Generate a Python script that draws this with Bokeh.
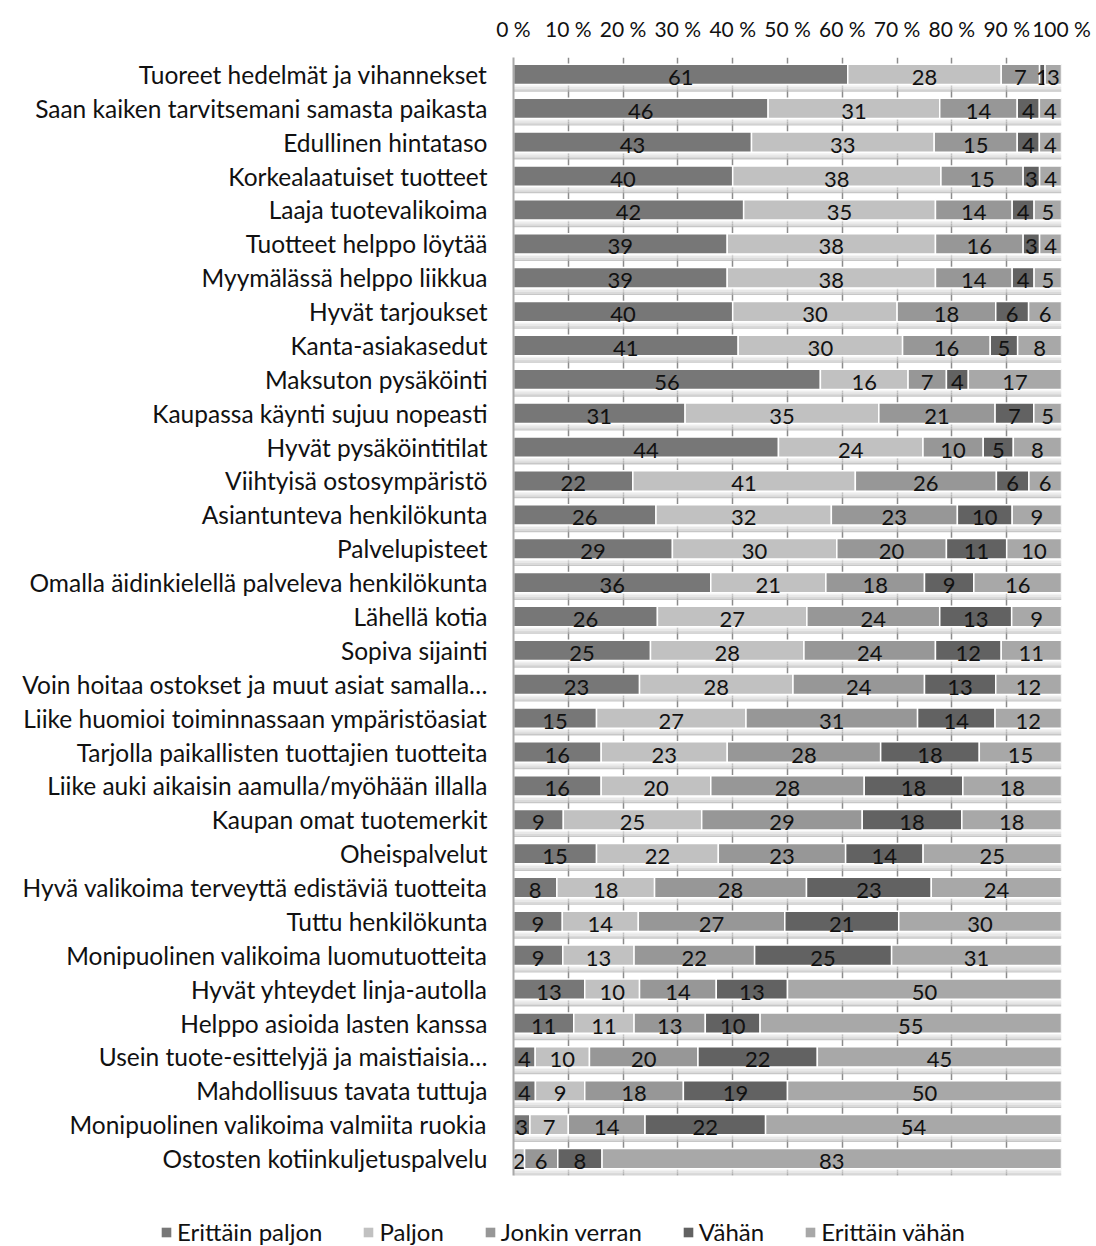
from bokeh.plotting import figure
from bokeh.layouts import column
from bokeh.models import (Range1d, FixedTicker, CustomJSTickFormatter, ColumnDataSource,
                          Legend, LegendItem)
from bokeh.core.properties import value
from bokeh.embed import file_html
from bokeh.resources import INLINE

categories = [
    "Tuoreet hedelmät ja vihannekset",
    "Saan kaiken tarvitsemani samasta paikasta",
    "Edullinen hintataso",
    "Korkealaatuiset tuotteet",
    "Laaja tuotevalikoima",
    "Tuotteet helppo löytää",
    "Myymälässä helppo liikkua",
    "Hyvät tarjoukset",
    "Kanta-asiakasedut",
    "Maksuton pysäköinti",
    "Kaupassa käynti sujuu nopeasti",
    "Hyvät pysäköintitilat",
    "Viihtyisä ostosympäristö",
    "Asiantunteva henkilökunta",
    "Palvelupisteet",
    "Omalla äidinkielellä palveleva henkilökunta",
    "Lähellä kotia",
    "Sopiva sijainti",
    "Voin hoitaa ostokset ja muut asiat samalla…",
    "Liike huomioi toiminnassaan ympäristöasiat",
    "Tarjolla paikallisten tuottajien tuotteita",
    "Liike auki aikaisin aamulla/myöhään illalla",
    "Kaupan omat tuotemerkit",
    "Oheispalvelut",
    "Hyvä valikoima terveyttä edistäviä tuotteita",
    "Tuttu henkilökunta",
    "Monipuolinen valikoima luomutuotteita",
    "Hyvät yhteydet linja-autolla",
    "Helppo asioida lasten kanssa",
    "Usein tuote-esittelyjä ja maistiaisia…",
    "Mahdollisuus tavata tuttuja",
    "Monipuolinen valikoima valmiita ruokia",
    "Ostosten kotiinkuljetuspalvelu",
]

series_names = ["Erittäin paljon", "Paljon", "Jonkin verran", "Vähän", "Erittäin vähän"]

erittain_paljon = [61, 46, 43, 40, 42, 39, 39, 40, 41, 56, 31, 44, 22, 26, 29, 36, 26, 25, 23, 15, 16, 16, 9, 15, 8, 9, 9, 13, 11, 4, 4, 3, 0]
paljon = [28, 31, 33, 38, 35, 38, 38, 30, 30, 16, 35, 24, 41, 32, 30, 21, 27, 28, 28, 27, 23, 20, 25, 22, 18, 14, 13, 10, 11, 10, 9, 7, 2]
jonkin_verran = [7, 14, 15, 15, 14, 16, 14, 18, 16, 7, 21, 10, 26, 23, 20, 18, 24, 24, 24, 31, 28, 28, 29, 23, 28, 27, 22, 14, 13, 20, 18, 14, 6]
vahan = [1, 4, 4, 3, 4, 3, 4, 6, 5, 4, 7, 5, 6, 10, 11, 9, 13, 12, 13, 14, 18, 18, 18, 14, 23, 21, 25, 13, 10, 22, 19, 22, 8]
erittain_vahan = [3, 4, 4, 4, 5, 4, 5, 6, 8, 17, 5, 8, 6, 9, 10, 16, 9, 11, 12, 12, 15, 18, 18, 25, 24, 30, 31, 50, 55, 45, 50, 54, 83]

series_values = [erittain_paljon, paljon, jonkin_verran, vahan, erittain_vahan]
colors = ["#777777", "#c1c1c1", "#979797", "#626262", "#a8a8a8"]

tick_values = list(range(0, 101, 10))

FONT = "Lato"
TEXT = "#111111"
n = len(categories)
ypos = [n - 1 - i for i in range(n)]   # first category on top

p = figure(
    width=1096, height=1210,
    x_range=Range1d(0, 100), y_range=Range1d(-0.5, n - 0.5),
    x_axis_location="above",
    output_backend="svg", toolbar_location=None,
    min_border_left=513, min_border_right=35,
    min_border_top=57, min_border_bottom=35,
)
p.frame_align = False
p.outline_line_color = None
p.background_fill_color = "white"

# shaded floor strip under every bar
half = 0.3
shades = [("#f0f0f0", 0.00, 0.06), ("#e0e0e0", 0.06, 0.12), ("#cdcdcd", 0.12, 0.17), ("#b4b4b4", 0.17, 0.21)]
for col, a, b in shades:
    p.quad(left=0, right=100,
           top=[y - half - a for y in ypos], bottom=[y - half - b for y in ypos],
           fill_color=col, fill_alpha=0.75, line_color=None)

# 100 % stacked segments with their value labels
totals = [sum(s[i] for s in series_values) for i in range(n)]
left = [0.0] * n
for name, vals, col in zip(series_names, series_values, colors):
    widths = [100.0 * v / t for v, t in zip(vals, totals)]
    right = [l + w for l, w in zip(left, widths)]
    src = ColumnDataSource(dict(y=ypos, left=left, right=right,
                                mid=[(l + r) / 2 for l, r in zip(left, right)],
                                label=[str(v) for v in vals]))
    p.hbar(y="y", left="left", right="right", height=2 * half, source=src,
           fill_color=col, line_color="white", line_width=1.5)
    p.text(x="mid", y="y", text="label", source=src, text_align="center",
           text_baseline="middle", y_offset=3, text_font=value(FONT),
           text_font_size="22px", text_color=TEXT)
    left = right

# top percentage axis
p.xaxis.ticker = FixedTicker(ticks=tick_values)
p.xaxis.formatter = CustomJSTickFormatter(code="return tick + ' %'")
p.xaxis.axis_line_color = None
p.xaxis.major_tick_line_color = None
p.xaxis.minor_tick_line_color = None
p.xaxis.major_label_standoff = 11
p.xaxis.major_label_text_font = FONT
p.xaxis.major_label_text_font_size = "21px"
p.xaxis.major_label_text_color = TEXT

# category axis
p.yaxis.ticker = FixedTicker(ticks=ypos)
p.yaxis.major_label_overrides = {y: c for y, c in zip(ypos, categories)}
p.yaxis.axis_line_color = "#a8a8a8"
p.yaxis.axis_line_width = 2
p.yaxis.major_tick_line_color = None
p.yaxis.minor_tick_line_color = None
p.yaxis.major_label_standoff = 20
p.yaxis.major_label_text_font = FONT
p.yaxis.major_label_text_font_size = "24.5px"
p.yaxis.major_label_text_color = TEXT

p.xgrid.ticker = FixedTicker(ticks=tick_values)
p.xgrid.grid_line_color = "#8c8c8c"
p.xgrid.grid_line_width = 1.5
p.ygrid.grid_line_color = None

# legend strip below the chart, spanning the full width
leg = figure(
    width=1096, height=36, x_range=Range1d(0, 1), y_range=Range1d(0, 1),
    output_backend="svg", toolbar_location=None,
    min_border_left=0, min_border_right=0, min_border_top=0, min_border_bottom=0,
)
leg.frame_align = False
leg.axis.visible = False
leg.grid.visible = False
leg.outline_line_color = None
# swatch renderers sit outside the visible range; only their legend glyphs show
swatches = [leg.hbar(y=[-5], left=[0], right=[1], height=1, fill_color=col,
                     line_color=None) for col in colors]
legend = Legend(
    items=[LegendItem(label=nm, renderers=[r]) for nm, r in zip(series_names, swatches)],
    orientation="horizontal", location=(160, 0),
    padding=0, margin=0, spacing=40,
    border_line_color=None, background_fill_alpha=0,
    glyph_width=12, glyph_height=12, label_standoff=5,
    label_text_font=FONT, label_text_font_size="24px", label_text_color=TEXT,
)
leg.add_layout(legend, "center")

open("out.html", "w").write(file_html(column(p, leg, spacing=0), INLINE))
